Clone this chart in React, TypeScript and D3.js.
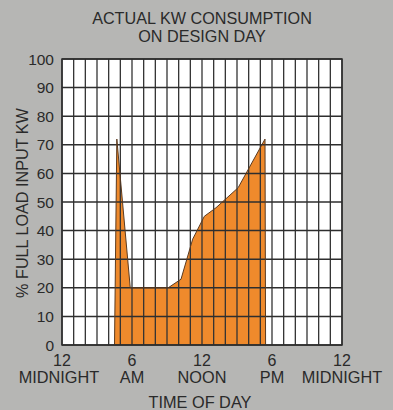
import React from "react";
import * as d3 from "d3";

const titleLines = ["ACTUAL KW CONSUMPTION", "ON DESIGN DAY"];
const yTicks = [0, 10, 20, 30, 40, 50, 60, 70, 80, 90, 100];
const xTickHours = [0, 6, 12, 18, 24];
const xTickTop = ["12", "6", "12", "6", "12"];
const xTickBottom = ["MIDNIGHT", "AM", "NOON", "PM", "MIDNIGHT"];
const gridHours = d3.range(0, 25);
const hours = [4.5, 4.7, 5.85, 9.1, 10.2, 11.2, 12.2, 13.2, 15.1, 17.4, 17.45];
const kwPct = [0, 72, 20, 20, 23, 37, 45, 48, 55, 72, 0];
const yTitle = "% FULL LOAD INPUT KW";
const xTitle = "TIME OF DAY";

const W = 393;
const H = 410;
const FONT = "'Liberation Sans', Arial, Helvetica, sans-serif";
const INK = "#2a2a2a";

export default function App() {
  const x = d3.scaleLinear().domain([0, 24]).range([62, 342]);
  const y = d3.scaleLinear().domain([0, 100]).range([345, 59]);
  const pts = hours.map((h, i) => [h, kwPct[i]] as [number, number]);
  const area = d3
    .area<[number, number]>()
    .x((d) => x(d[0]))
    .y0(y(0))
    .y1((d) => y(d[1]));
  const line = d3
    .line<[number, number]>()
    .x((d) => x(d[0]))
    .y((d) => y(d[1]));

  return (
    <svg
      width={W}
      height={H}
      style={{ position: "absolute", left: 0, top: 0, display: "block" }}
      fontFamily={FONT}
    >
      <rect x={0} y={0} width={W} height={H} fill="#b6b6b4" />
      {titleLines.map((t, i) => (
        <text
          key={t}
          x={202}
          y={24.3 + i * 17.8}
          textAnchor="middle"
          fontSize={16.2}
          fill={INK}
        >
          {t}
        </text>
      ))}
      <rect
        x={x(0)}
        y={y(100)}
        width={x(24) - x(0)}
        height={y(0) - y(100)}
        fill="#ffffff"
      />
      <path d={area(pts) || ""} fill="#ef8a2c" />
      {gridHours.map((h) => (
        <line
          key={"v" + h}
          x1={x(h)}
          x2={x(h)}
          y1={y(0)}
          y2={y(100)}
          stroke="#333"
          strokeWidth={1.3}
        />
      ))}
      {yTicks.map((v) => (
        <line
          key={"h" + v}
          x1={x(0)}
          x2={x(24)}
          y1={y(v)}
          y2={y(v)}
          stroke="#2e2e2e"
          strokeWidth={1.5}
        />
      ))}
      <path d={line(pts) || ""} fill="none" stroke="#5a3a20" strokeWidth={1} />
      <rect
        x={x(0)}
        y={y(100)}
        width={x(24) - x(0)}
        height={y(0) - y(100)}
        fill="none"
        stroke="#2e2e2e"
        strokeWidth={1.5}
      />
      {yTicks.map((v) => (
        <text
          key={"yl" + v}
          x={54}
          y={y(v)}
          dy="0.36em"
          textAnchor="end"
          fontSize={15.5}
          fill={INK}
        >
          {v}
        </text>
      ))}
      {xTickHours.map((h, i) => (
        <g key={"xl" + i}>
          <text x={x(h)} y={366} textAnchor="middle" fontSize={16} fill={INK}>
            {xTickTop[i]}
          </text>
          <text
            x={x(h) - (i === 0 ? 3 : 0)}
            y={383}
            textAnchor="middle"
            fontSize={16.3}
            fill={INK}
          >
            {xTickBottom[i]}
          </text>
        </g>
      ))}
      <text
        x={200}
        y={408}
        textAnchor="middle"
        fontSize={16.3}
        fill={INK}
      >
        {xTitle}
      </text>
      <text
        transform={`translate(27.5, 203) rotate(-90)`}
        textAnchor="middle"
        fontSize={16.2}
        fill={INK}
      >
        {yTitle}
      </text>
    </svg>
  );
}
